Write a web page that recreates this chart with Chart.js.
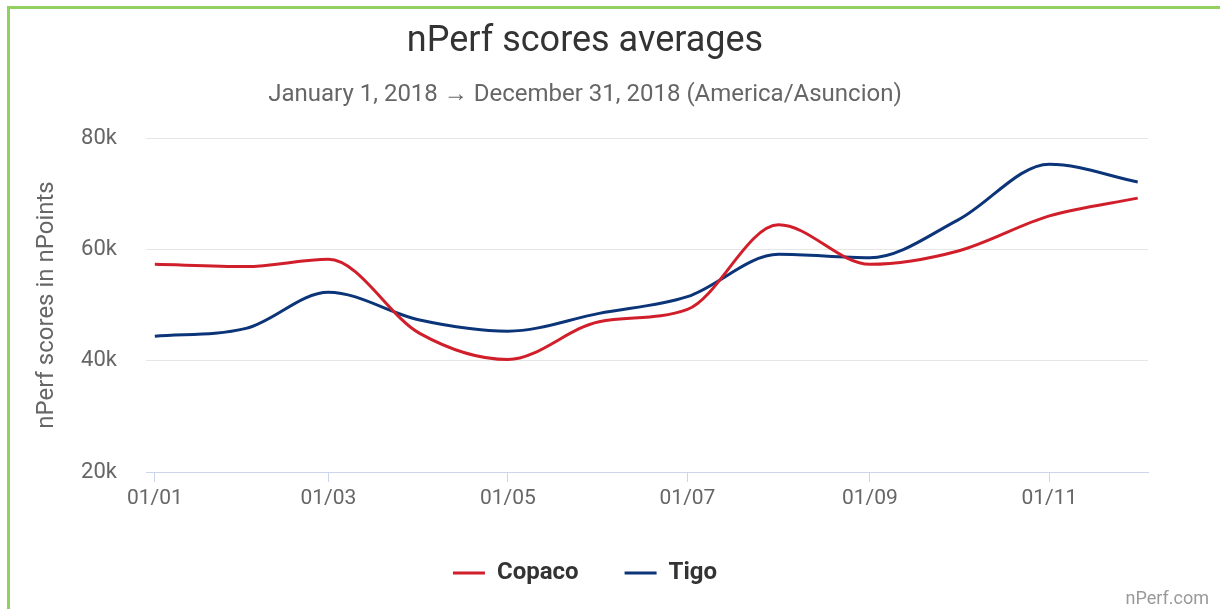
<!DOCTYPE html>
<html>
<head>
<meta charset="utf-8">
<script src="https://cdn.jsdelivr.net/npm/chart.js@4.4.1/dist/chart.umd.min.js"></script>
<style>
  html, body { margin: 0; padding: 0; background: #fff; overflow: hidden; }
  #wrap { position: relative; width: 1220px; height: 609px; }
  #frame { position: absolute; left: 7px; top: 6px; width: 1300px; height: 700px;
           border-left: 3px solid #92d15f; border-top: 3px solid #92d15f; }
  #credit { position: absolute; right: 11px; top: 588px; font: 18px Roboto, sans-serif;
            color: #999; line-height: 20px; }
  canvas { position: absolute; left: 0; top: 0; }
</style>
</head>
<body>
<div id="wrap">
  <div id="frame"></div>
  <canvas id="chart" width="1220" height="609"></canvas>
  <div id="credit">nPerf.com</div>
</div>
<script>
// monthly averages, first day of each month
const months = ['2018-01-01', '2018-02-01', '2018-03-01', '2018-04-01', '2018-05-01', '2018-06-01',
                '2018-07-01', '2018-08-01', '2018-09-01', '2018-10-01', '2018-11-01', '2018-12-01'];
const copaco = [57300, 56900, 58200, 44900, 40200, 47000, 49200, 64400, 57300, 59700, 66000, 69200];
const tigo = [44400, 45800, 52300, 47300, 45300, 48500, 51500, 59100, 58500, 65300, 75300, 72100];
const tickDates = ['2018-01-01', '2018-03-01', '2018-05-01', '2018-07-01', '2018-09-01', '2018-11-01'];
const tickLabels = ['01/01', '01/03', '01/05', '01/07', '01/09', '01/11'];
const yTicks = [20000, 40000, 60000, 80000];

// days since Jan 1st
function toDay(s) {
    return (Date.parse(s) - Date.parse('2018-01-01')) / 86400000;
}
const tickDays = tickDates.map(toDay);

Chart.defaults.font.family = 'Roboto, sans-serif';
Chart.defaults.color = '#666';

const ctx = document.getElementById('chart').getContext('2d');
new Chart(ctx, {
    type: 'line',
    data: {
        datasets: [{
            label: 'Copaco',
            data: months.map((m, i) => ({ x: toDay(m), y: copaco[i] })),
            borderColor: '#d01f2b',
            backgroundColor: '#d01f2b',
            borderWidth: 3,
            cubicInterpolationMode: 'monotone',
            pointRadius: 0,
        }, {
            label: 'Tigo',
            data: months.map((m, i) => ({ x: toDay(m), y: tigo[i] })),
            borderColor: '#0b3578',
            backgroundColor: '#0b3578',
            borderWidth: 3,
            cubicInterpolationMode: 'monotone',
            pointRadius: 0,
        }],
    },
    options: {
        responsive: false,
        animation: false,
        layout: { padding: { left: 22, right: 72, top: 0, bottom: 19 } },
        plugins: {
            title: {
                display: true,
                text: 'nPerf scores averages',
                color: '#333',
                font: { size: 36, weight: 'normal' },
                padding: { top: 20, bottom: 0 },
            },
            subtitle: {
                display: true,
                text: 'January 1, 2018 \u2192 December 31, 2018 (America/Asuncion)',
                color: '#666',
                font: { size: 24 },
                padding: { top: 17, bottom: 29 },
            },
            legend: {
                position: 'bottom',
                maxHeight: 75,
                labels: {
                    color: '#333',
                    font: { size: 24, weight: 'bold' },
                    boxWidth: 32,
                    boxHeight: 3,
                    padding: 46,
                    generateLabels: (chart) => Chart.defaults.plugins.legend.labels.generateLabels(chart)
                        .map(l => Object.assign(l, { lineWidth: 0 })),
                },
            },
            tooltip: { enabled: false },
        },
        scales: {
            x: {
                type: 'linear',
                min: -3,
                max: 337.5,
                afterBuildTicks: (scale) => { scale.ticks = tickDays.map(v => ({ value: v })); },
                afterFit: (scale) => { scale.height = 43; },
                ticks: {
                    autoSkip: false,
                    maxRotation: 0,
                    padding: 4,
                    font: { size: 21 },
                    callback: (v) => tickLabels[tickDays.indexOf(v)],
                },
                grid: { drawOnChartArea: false, drawTicks: true, tickLength: 10, color: '#ccd6eb' },
                border: { color: '#ccd6eb', width: 1 },
            },
            y: {
                min: 20000,
                max: 80000,
                afterBuildTicks: (scale) => { scale.ticks = yTicks.map(v => ({ value: v })); },
                afterFit: (scale) => { scale.width = 124; },
                ticks: {
                    padding: 29,
                    font: { size: 22 },
                    callback: (v) => (v / 1000) + 'k',
                },
                grid: {
                    drawTicks: false,
                    color: (c) => c.tick && c.tick.value === 20000 ? '#ccd6eb' : '#e6e6e6',
                },
                border: { display: false },
                title: {
                    display: true,
                    text: 'nPerf scores in nPoints',
                    color: '#666',
                    font: { size: 24 },
                    padding: { top: 11, bottom: 0 },
                },
            },
        },
    },
});
</script>
</body>
</html>
